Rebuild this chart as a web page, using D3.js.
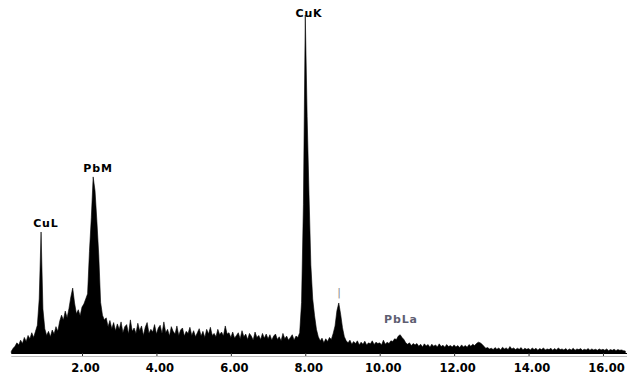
<!DOCTYPE html>
<html>
<head>
<meta charset="utf-8">
<script src="https://cdn.jsdelivr.net/npm/d3@7"></script>
<style>
  html, body { margin: 0; padding: 0; background: #fff; }
  svg { display: block; }
</style>
</head>
<body>
<div id="chart"></div>
<script>
const WIDTH = 627;
const HEIGHT = 377;

// spectrum channels: first energy (keV) and channel width
const ENERGY_START = 0.10;
const ENERGY_STEP = 0.05;

// counts per channel, one row per keV
const counts = [
  // 0.10 - 0.95
  5, 14, 20, 30, 24, 38, 28, 46, 34, 52, 42, 60, 46, 64, 82, 160, 358, 130,
  // 1.00 - 1.95
  72, 52, 64, 48, 68, 56, 78, 64, 94, 112, 98, 124, 104, 132, 166, 192, 148, 116, 128, 110,
  // 2.00 - 2.95
  136, 145, 160, 175, 300, 400, 521, 480, 390, 290, 150, 112, 98, 104, 78, 96, 72, 90, 66, 86,
  // 3.00 - 3.95
  70, 92, 60, 78, 84, 56, 98, 64, 74, 58, 88, 66, 80, 52, 76, 90, 58, 70, 62, 84,
  // 4.00 - 4.95
  56, 74, 82, 58, 92, 60, 70, 50, 78, 64, 56, 80, 52, 68, 74, 50, 64, 58, 76, 52,
  // 5.00 - 5.95
  66, 48, 60, 72, 50, 64, 46, 70, 56, 76, 52, 58, 48, 70, 54, 62, 50, 80, 56, 60,
  // 6.00 - 6.95
  46, 62, 44, 52, 60, 42, 66, 48, 56, 40, 58, 50, 38, 62, 46, 52, 40, 58, 44, 56,
  // 7.00 - 7.95
  42, 54, 38, 50, 56, 40, 48, 36, 58, 42, 50, 38, 46, 54, 38, 50, 46, 60, 150, 440,
  // 8.00 - 8.95
  1000, 700, 470, 260, 160, 110, 70, 48, 36, 44, 30, 42, 34, 46, 40, 58, 80, 125, 148, 115,
  // 9.00 - 9.95
  75, 48, 36, 30, 38, 26, 34, 28, 36, 24, 32, 26, 35, 24, 30, 27, 36, 25, 32, 28,
  // 10.00 - 10.95
  30, 24, 38, 26, 32, 28, 36, 34, 42, 40, 50, 54, 46, 40, 30, 26, 30, 22, 28, 24,
  // 11.00 - 11.95
  28, 20, 26, 18, 27, 21, 25, 17, 26, 20, 24, 18, 27, 19, 23, 17, 25, 19, 22, 18,
  // 12.00 - 12.95
  24, 18, 22, 16, 24, 18, 22, 17, 25, 20, 26, 22, 28, 32, 30, 26, 20, 14, 16, 12,
  // 13.00 - 13.95
  14, 10, 16, 11, 15, 9, 17, 12, 15, 10, 19, 12, 15, 10, 14, 11, 16, 9, 14, 11,
  // 14.00 - 14.95
  13, 9, 15, 10, 14, 8, 13, 10, 15, 9, 12, 10, 14, 8, 13, 9, 15, 10, 12, 9,
  // 15.00 - 15.95
  13, 8, 12, 9, 14, 8, 12, 10, 13, 8, 11, 9, 13, 8, 12, 9, 11, 8, 12, 9,
  // 16.00 - 16.60
  11, 8, 12, 7, 10, 8, 11, 7, 10, 8, 9, 7, 6
];

const tickValues = [2, 4, 6, 8, 10, 12, 14, 16];

// peak labels: text, energy (keV), height in counts
const peakNames = ['CuL', 'PbM', 'CuK', '|', 'PbLa'];
const peakEnergy = [1.03, 2.43, 8.10, 8.91, 10.57];
const peakCounts = [373, 536, 995, 169, 89];
const peakColors = ['#000', '#000', '#000', '#8a8a8a', '#5e5e72'];

const FONT = '"DejaVu Sans", Verdana, sans-serif';
const MARGIN = { left: 11.3, right: 1.7, top: 15, bottom: 24 };

const data = counts.map((c, i) => ({ e: ENERGY_START + i * ENERGY_STEP, c: c }));

const x = d3.scaleLinear()
    .domain([ENERGY_START, 16.6])
    .range([MARGIN.left, WIDTH - MARGIN.right]);

const y = d3.scaleLinear()
    .domain([0, 1000])
    .range([HEIGHT - MARGIN.bottom, MARGIN.top]);

const svg = d3.select('#chart')
    .append('svg')
    .attr('width', WIDTH)
    .attr('height', HEIGHT)
    .attr('viewBox', `0 0 ${WIDTH} ${HEIGHT}`);

const area = d3.area()
    .curve(d3.curveLinear)
    .x(d => x(d.e))
    .y0(y(0))
    .y1(d => y(d.c));

svg.append('path')
    .datum(data)
    .attr('fill', '#000')
    .attr('stroke', '#000')
    .attr('stroke-width', 0.6)
    .attr('d', area);

// faint second rule under the axis
svg.append('line')
    .attr('x1', x.range()[0])
    .attr('x2', WIDTH)
    .attr('y1', y(0) + 3.5)
    .attr('y2', y(0) + 3.5)
    .attr('stroke', '#bdbdbd')
    .attr('stroke-width', 1);

const xAxis = svg.append('g')
    .attr('transform', `translate(0,${y(0)})`)
    .call(d3.axisBottom(x)
        .tickValues(tickValues)
        .tickFormat(d3.format('.2f'))
        .tickSize(3)
        .tickSizeOuter(0)
        .tickPadding(8));

xAxis.select('.domain')
    .attr('d', `M${x.range()[0]},0.5H${WIDTH}`)
    .attr('stroke', '#000')
    .attr('stroke-width', 1.2);

xAxis.selectAll('.tick line')
    .attr('stroke', '#333');

xAxis.selectAll('.tick text')
    .attr('dx', 3)
    .style('font-family', FONT)
    .style('font-size', '11.5px')
    .style('font-weight', 'bold')
    .attr('fill', '#000');

svg.append('g')
    .selectAll('text')
    .data(peakNames)
    .join('text')
    .attr('x', (d, i) => x(peakEnergy[i]))
    .attr('y', (d, i) => y(peakCounts[i]))
    .attr('text-anchor', 'middle')
    .style('font-family', FONT)
    .style('font-size', '11px')
    .style('font-weight', (d) => d === '|' ? 'normal' : 'bold')
    .style('letter-spacing', (d) => d === '|' ? '0px' : '0.8px')
    .attr('fill', (d, i) => peakColors[i])
    .text(d => d);
</script>
</body>
</html>
